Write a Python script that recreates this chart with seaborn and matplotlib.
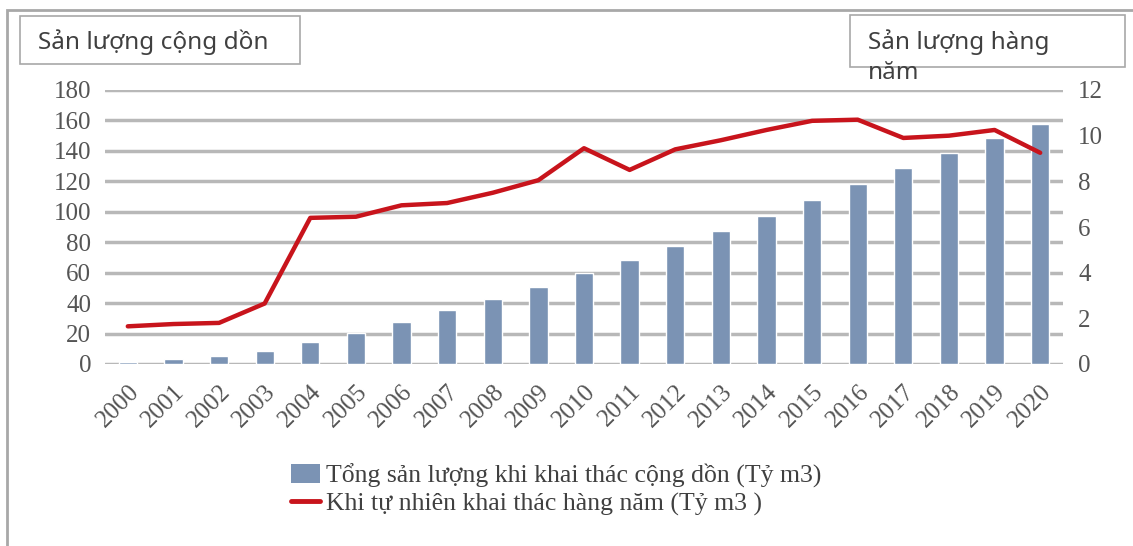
import numpy as np
import pandas as pd
import matplotlib
matplotlib.use("Agg")
import matplotlib.pyplot as plt
import seaborn as sns
from matplotlib.patches import Rectangle, Patch
from matplotlib.lines import Line2D

# ------------------------ DATA ------------------------
years = [str(y) for y in range(2000, 2021)]
cumulative = [1.5, 3.5, 5.5, 8.5, 14.5, 20.5, 27.5, 35.5, 42.5, 50.5, 59.5,
              68.5, 77.5, 87.5, 97.5, 108, 118.5, 128.5, 138.5, 148.5, 157.5]
annual = [1.65, 1.75, 1.8, 2.65, 6.4, 6.45, 6.95, 7.05, 7.5, 8.05, 9.45,
          8.5, 9.4, 9.8, 10.25, 10.65, 10.7, 9.9, 10.0, 10.25, 9.25]
left_ticks = [0, 20, 40, 60, 80, 100, 120, 140, 160, 180]
right_ticks = [0, 2, 4, 6, 8, 10, 12]
bar_label = "Tổng sản lượng khi khai thác cộng dồn (Tỷ m3)"
line_label = "Khi tự nhiên khai thác hàng năm (Tỷ m3 )"

BAR_COLOR = "#7b93b4"
LINE_COLOR = "#c8141c"
GRID_COLOR = "#b8b8b8"
TICK_COLOR = "#555555"

sns.set_style("white")
plt.rcParams["font.family"] = ["Liberation Serif", "DejaVu Serif"]

W, H = 1133, 546
fig = plt.figure(figsize=(W / 100, H / 100), dpi=100)
fig.patch.set_facecolor("white")


def fx(px):
    return px / W


def fy(py):
    return 1 - py / H


ax = fig.add_axes([fx(105), fy(364), fx(1063) - fx(105), fy(90) - fy(364)])
df = pd.DataFrame({"year": years, "cum": cumulative})
sns.barplot(data=df, x="year", y="cum", color=BAR_COLOR, width=0.4,
            saturation=1, ax=ax, zorder=3)
ax.set_ylim(0, 180)
ax.set_xlim(-0.5, len(years) - 0.5)
ax.set_yticks(left_ticks)
ax.yaxis.grid(True, color=GRID_COLOR, lw=2.5)
ax.set_axisbelow(True)
ax.set_xlabel("")
ax.set_ylabel("")
for s in ax.spines.values():
    s.set_visible(False)
ax.tick_params(axis="y", length=0, pad=10, labelsize=18, labelcolor=TICK_COLOR)
ax.tick_params(axis="x", length=0, pad=12, labelsize=18, labelcolor=TICK_COLOR)
plt.setp(ax.get_xticklabels(), rotation=45, ha="right", rotation_mode="anchor")

ax2 = ax.twinx()
sns.lineplot(x=np.arange(len(years)), y=annual, color=LINE_COLOR, lw=3.2,
             ax=ax2, zorder=4)
ax2.set_ylim(0, 12)
ax2.set_yticks(right_ticks)
for s in ax2.spines.values():
    s.set_visible(False)
ax2.tick_params(axis="y", length=0, pad=11, labelsize=18, labelcolor=TICK_COLOR)
ax2.set_xlim(-0.5, len(years) - 0.5)

# outer frame
fig.add_artist(Rectangle((fx(7), fy(600)), 2, fy(10) - fy(600), transform=fig.transFigure,
                         fill=False, ec="#a8a8a8", lw=2))

# header boxes
sans = ["Noto Sans", "DejaVu Sans"]
fig.add_artist(Rectangle((fx(20), fy(64)), fx(300) - fx(20), fy(16) - fy(64),
                         transform=fig.transFigure, fill=True, fc="white",
                         ec="#a8a8a8", lw=1.2))
fig.text(fx(38), fy(42), "Sản lượng cộng dồn", family=sans, fontsize=17.5,
         color="#404040", va="center", ha="left")
fig.add_artist(Rectangle((fx(850), fy(67)), fx(1125) - fx(850), fy(15) - fy(67),
                         transform=fig.transFigure, fill=True, fc="white",
                         ec="#a8a8a8", lw=1.2))
fig.text(fx(868), fy(42), "Sản lượng hàng", family=sans, fontsize=17.5,
         color="#404040", va="center", ha="left")
fig.text(fx(868), fy(73), "năm", family=sans, fontsize=17.5,
         color="#404040", va="center", ha="left")

handles = [Patch(facecolor=BAR_COLOR, edgecolor="none"),
           Line2D([0], [0], color=LINE_COLOR, lw=3.5)]
fig.legend(handles, [bar_label, line_label], loc="upper left",
           bbox_to_anchor=(fx(281), fy(453)), frameon=False, fontsize=18.5,
           labelcolor="#404040", handlelength=1.1, handleheight=0.8,
           handletextpad=0.25, labelspacing=0.15, borderaxespad=0)

fig.savefig("out.png", dpi=100, facecolor="white")
